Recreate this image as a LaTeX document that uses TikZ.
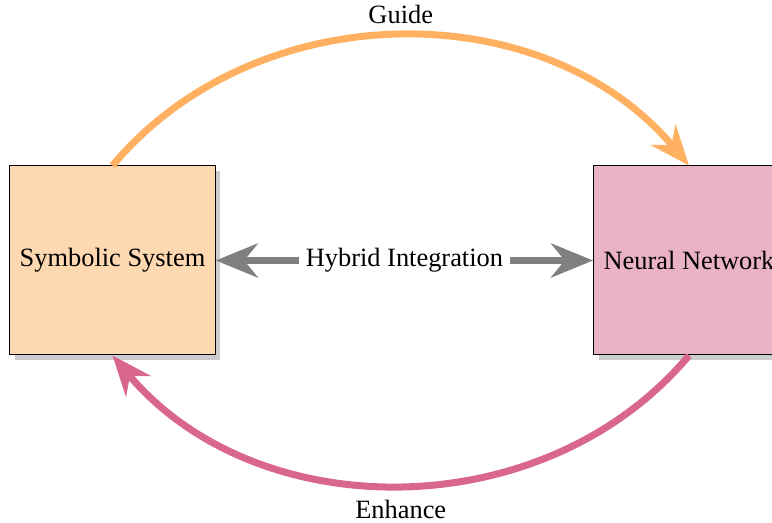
\documentclass[tikz,border=0pt]{standalone}
\usepackage{fontspec}
\setmainfont{Liberation Serif}
\usepackage{xcolor}
\usetikzlibrary{arrows.meta}
\usetikzlibrary{shadows}
\definecolor{peach}{RGB}{253,216,177}
\definecolor{rose}{RGB}{234,178,198}
\definecolor{guideorange}{RGB}{255,176,97}
\definecolor{enhancepink}{RGB}{217,102,143}
\tikzset{
	box node/.style={rectangle,draw=black,line width=0.5pt,minimum size=94.5pt,inner sep=5pt,
		drop shadow={shadow xshift=2.5pt,shadow yshift=-2.5pt,opacity=0.4}},
	loop arrow/.style={line width=3.5pt,-{Stealth[length=20pt,width=16pt]}},
	hybrid arrow/.style={draw=gray,line width=3.5pt,
		{Stealth[length=21pt,width=17pt]}-{Stealth[length=21pt,width=17pt]}}
}

\begin{document}
\begin{tikzpicture}[x=0.5pt,y=0.5pt,font=\fontsize{13.2}{16}\selectfont]
	\useasboundingbox (0,0) rectangle (772,523);
	\node [box node,fill=peach] (sym) at (112.5,262.5) {Symbolic System};
	\node [box node,fill=rose] (nn) at (689,262.5) {Neural Network};
	% outer loop
	\draw [loop arrow,draw=guideorange] (sym.north) to[bend left=50]
		node[midway,above,yshift=1pt,text=black] {Guide} (nn.north);
	\draw [loop arrow,draw=enhancepink] (nn.south) to[bend left=50]
		node[midway,below,yshift=-2.5pt,text=black] {Enhance} (sym.south);
	% middle link
	\draw [hybrid arrow] (sym.east) -- node[fill=white] {Hybrid Integration} (nn.west);
\end{tikzpicture}
\end{document}
